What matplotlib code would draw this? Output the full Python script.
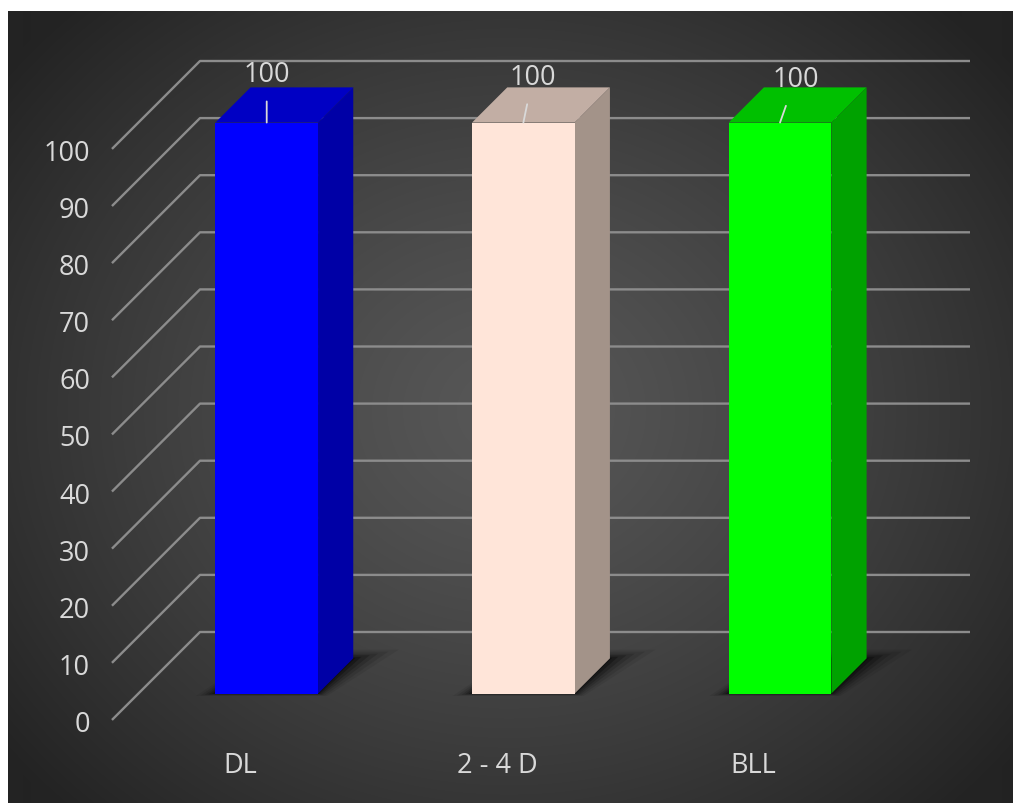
import numpy as np
import matplotlib
matplotlib.use("Agg")
import matplotlib.pyplot as plt
from matplotlib.patches import Polygon
from matplotlib.transforms import ScaledTranslation

# ---------------- data ----------------
categories = ["DL", "2 - 4 D", "BLL"]
values = [100, 100, 100]
front_colors = ["#0000FF", "#FFE5D9", "#00FF00"]
top_colors = ["#0000C4", "#C2AEA4", "#00C000"]
side_colors = ["#0000A6", "#A39389", "#00A200"]
y_ticks = [0, 10, 20, 30, 40, 50, 60, 70, 80, 90, 100]
value_labels = ["100", "100", "100"]

# ---------------- style / layout ----------------
W, H = 1013, 804
TXT = "#D9D9D9"
GRID = "#8C8C8C"
FONT = ["Open Sans", "DejaVu Sans"]
FS = 19.5

DX = -0.343   # horizontal depth offset (category units) from back to front plane
DY = -15.4    # vertical depth offset (value units)
HW = 0.2      # half bar width
D_FRONT, D_BACK = 0.7, 0.3

def P(x, v, d):
    return (x + DX * d, v + DY * d)

fig = plt.figure(figsize=(W / 100, H / 100), dpi=100)
fig.patch.set_facecolor("white")

def shift(px_x, px_y):
    return ScaledTranslation(px_x / 100, px_y / 100, fig.dpi_scale_trans)

# background radial gradient
bg = fig.add_axes([8 / W, 0, 1 - 8 / W, (H - 12) / H])
bg.set_axis_off()
yy, xx = np.mgrid[0:792, 0:1005]
cx, cy = 500, 400
r = np.sqrt((xx - cx) ** 2 + ((yy - cy) * 1.15) ** 2) / 640.0
r = np.clip(r, 0, 1)
g = (0x57 - (0x57 - 0x23) * r ** 1.3) / 255.0
img = np.dstack([g, g, g])
bg.imshow(img, aspect="auto", extent=[0, 1, 0, 1], interpolation="bilinear")
bg.set_xlim(0, 1)
bg.set_ylim(0, 1)

ax = fig.add_axes([200 / W, (H - 633) / H, 770 / W, 571 / H])
ax.set_facecolor("none")
ax.set_axis_off()
ax.set_xlim(-0.5, len(categories) - 0.5)
ax.set_ylim(0, 100)

xl, xr = -0.5, len(categories) - 0.5

# gridlines: diagonal on left wall, horizontal on back wall
for t in y_ticks:
    fx, fy = P(xl, t, 1.0)
    ax.plot([fx, xl, xr], [fy, t, t], color=GRID, lw=1.7, clip_on=False,
            solid_capstyle="butt", zorder=1)
    ax.text(fx, fy, str(t), ha="right", va="center", color=TXT,
            fontsize=FS, family=FONT, clip_on=False,
            transform=ax.transData + shift(-22, -4))

# bars
for i, (cat, v) in enumerate(zip(categories, values)):
    # soft shadow on the floor
    for grow, a in [(0.11, 0.07), (0.085, 0.10), (0.06, 0.14),
                    (0.04, 0.20), (0.02, 0.28), (0.005, 0.35)]:
        shp = [P(i - HW - grow * 0.6, 0, D_FRONT + grow * 0.25),
               P(i + HW + grow * 0.4, 0, D_FRONT + grow * 0.25),
               P(i + HW + grow * 1.3, 0, D_BACK - grow * 0.9),
               P(i - HW + 0.02, 0, D_BACK - grow * 0.9)]
        ax.add_patch(Polygon(shp, closed=True, fc="black", ec="none",
                             alpha=a, clip_on=False, zorder=2))
    # top face
    top = [P(i - HW, v, D_FRONT), P(i + HW, v, D_FRONT),
           P(i + HW, v, D_BACK), P(i - HW, v, D_BACK)]
    ax.add_patch(Polygon(top, closed=True, fc=top_colors[i], ec="none",
                         clip_on=False, zorder=3))
    # side face
    side = [P(i + HW, 0, D_FRONT), P(i + HW, 0, D_BACK),
            P(i + HW, v, D_BACK), P(i + HW, v, D_FRONT)]
    ax.add_patch(Polygon(side, closed=True, fc=side_colors[i], ec="none",
                         clip_on=False, zorder=3))
    # front face
    front = [P(i - HW, 0, D_FRONT), P(i + HW, 0, D_FRONT),
             P(i + HW, v, D_FRONT), P(i - HW, v, D_FRONT)]
    ax.add_patch(Polygon(front, closed=True, fc=front_colors[i], ec="none",
                         clip_on=False, zorder=4))

    # category label at the front floor edge
    lx, ly = P(i, 0, 1.0)
    ax.text(lx, ly, cat, ha="center", va="center", color=TXT, fontsize=FS,
            family=FONT, clip_on=False, transform=ax.transData + shift(0, -45))

# data labels with leader lines
label_offsets_px = [(0, 49), (9.5, 46), (15.5, 44)]
for i, v in enumerate(values):
    tx, ty = P(i, v, D_FRONT)
    ox, oy = label_offsets_px[i]
    ax.annotate(value_labels[i], xy=(tx, ty), xytext=(ox * 0.72, oy * 0.72),
                textcoords="offset points", ha="center", va="center",
                color=TXT, fontsize=FS, family=FONT, annotation_clip=False,
                zorder=6,
                arrowprops=dict(arrowstyle="-", color="#D9D9D9", lw=1.3,
                                shrinkA=8, shrinkB=0))

fig.savefig("out.png", dpi=100, facecolor=fig.get_facecolor())
